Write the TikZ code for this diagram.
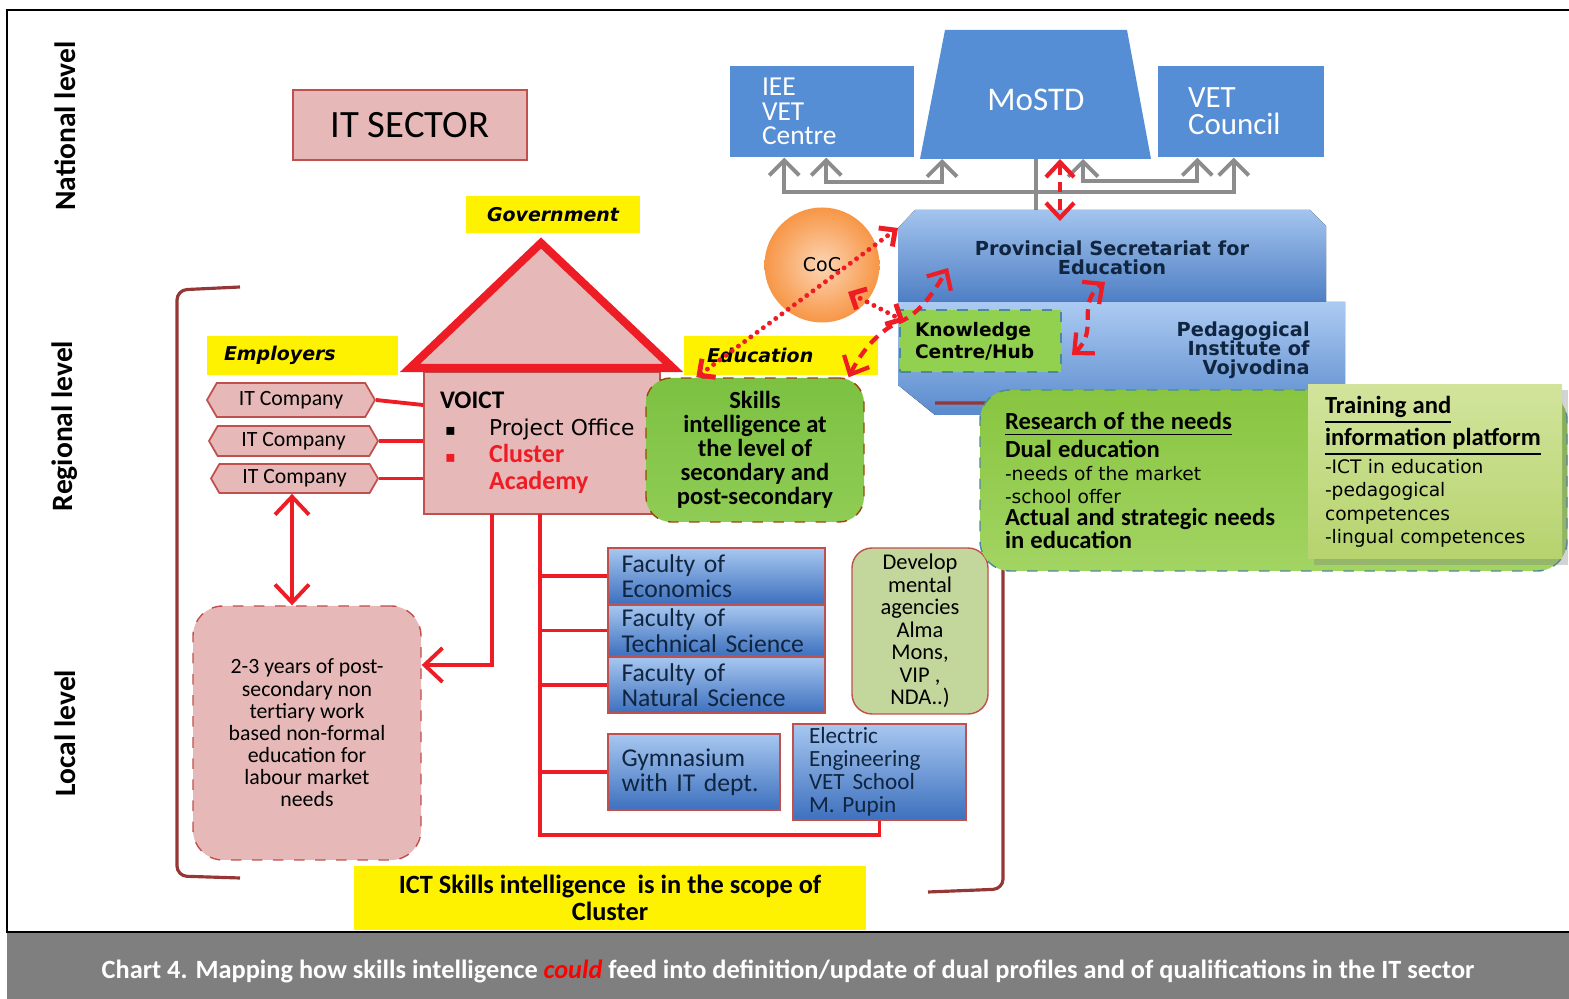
\documentclass[tikz,border=0pt]{standalone}
\usepackage{fontspec}
\setmainfont{Carlito}
\newfontfamily\verd{DejaVu Sans}
\usetikzlibrary{arrows.meta,shapes.symbols,shadows}

\definecolor{pinkfill}{HTML}{E6B9B8}
\definecolor{cellred}{HTML}{C0504D}
\definecolor{brightred}{HTML}{EE1C25}
\definecolor{bracketred}{HTML}{953735}
\definecolor{natblue}{HTML}{558ED5}
\definecolor{provtop}{HTML}{A3C4EE}
\definecolor{provbot}{HTML}{4E7FC4}
\definecolor{pedtop}{HTML}{ACCBF2}
\definecolor{pedbot}{HTML}{5A8ACD}
\definecolor{factop}{HTML}{A7C7F0}
\definecolor{facbot}{HTML}{3D70BE}
\definecolor{navytext}{HTML}{10253F}
\definecolor{arrowgray}{HTML}{8C8C8C}
\definecolor{kgreen}{HTML}{92D050}
\definecolor{dashteal}{HTML}{4A8A9A}
\definecolor{cocin}{HTML}{FCD5B4}
\definecolor{cocout}{HTML}{F79646}
\definecolor{sgone}{HTML}{7CC142}
\definecolor{sgtwo}{HTML}{8FCC55}
\definecolor{skillsedge}{HTML}{984807}
\definecolor{rgone}{HTML}{88C540}
\definecolor{rgtwo}{HTML}{A2D462}
\definecolor{tgone}{HTML}{D2E49C}
\definecolor{tgtwo}{HTML}{B6D36E}
\definecolor{devgreen}{HTML}{C3D69B}
\definecolor{capgray}{HTML}{7F7F7F}

\begin{document}
\begin{tikzpicture}[x=0.1mm, y=-0.1mm,
        pinkbox/.style={draw=cellred, fill=pinkfill, line width=0.5pt},
        yellowbox/.style={fill=yellow, inner sep=0pt},
        natbox/.style={fill=natblue, text=white, inner sep=0pt},
        facbox/.style={draw=cellred, line width=0.5pt, top color=factop, bottom color=facbot, text=navytext, inner sep=0pt, align=left},
        company/.style={signal, signal to=west and east, signal pointer angle=120, pinkbox, inner sep=0pt, font=\fontsize{6.2}{7}\selectfont},
        feedline/.style={draw=brightred, line width=1.1pt, >={Straight Barb[length=1.8mm,width=3.4mm]}},
        grayarrow/.style={draw=arrowgray, line width=1.1pt, >={Straight Barb[length=1.5mm,width=3mm]}, <->},
        reddots/.style={draw=brightred, line width=1.4pt, dash pattern=on 0pt off 2.2pt, line cap=round, >={Straight Barb[length=1.2mm,width=2.3mm]}, <->},
        reddash/.style={draw=brightred, line width=1.2pt, dash pattern=on 3pt off 2pt, >={Straight Barb[length=1.5mm,width=2.8mm]}, <->},
        bracket/.style={draw=bracketred, line width=0.9pt, rounded corners=1mm},
        lvl/.style={rotate=90, font=\bfseries\fontsize{8.4}{10}\selectfont}]

        \useasboundingbox (0,0) rectangle (1569,999);

        % frame and caption band
        \fill[capgray] (7,932) rectangle (1569,999);
        \draw[black, line width=0.6pt] (1569,10) -- (7,10) -- (7,932) -- (1569,932);
        \node[text=white, font=\bfseries\fontsize{7.5}{9}\selectfont] (caption) at (788,971)
            {Chart 4. Mapping how skills intelligence {\color{red}\itshape could} feed into definition/update of dual profiles and of qualifications in the IT sector};

        \node[lvl] (national) at (65,126) {National level};
        \node[lvl] (regional) at (65,426) {Regional level};
        \node[lvl] (local) at (65,733) {Local level};

        \coordinate (lb1) at (240,287);
        \coordinate (lb2) at (177,290);
        \coordinate (lb3) at (177,876);
        \coordinate (lb4) at (240,878);
        \draw[bracket] (lb1) -- (lb2) -- (lb3) -- (lb4);

        \node[pinkbox, minimum width=23.4mm, minimum height=7mm, font=\fontsize{11}{13}\selectfont] (itsector) at (410,125) {IT SECTOR};

        % national level
        \node[natbox, minimum width=18.4mm, minimum height=9.1mm, text width=12mm, inner xsep=3.2mm, align=left, font=\fontsize{7.8}{7}\selectfont] (ieevet) at (822,111.5) {IEE\\VET\\Centre};
        \node[natbox, minimum width=16.6mm, minimum height=9.1mm, text width=10.6mm, inner xsep=3mm, align=left, font=\fontsize{8.8}{7.7}\selectfont] (vetcouncil) at (1241,111.5) {VET\\Council};

        \coordinate (mt1) at (945,30);
        \coordinate (mt2) at (1127,30);
        \coordinate (mt3) at (1151,159);
        \coordinate (mt4) at (920,159);
        \fill[natblue] (mt1) -- (mt2) -- (mt3) -- (mt4) -- cycle;
        \node[text=white, font=\fontsize{9.4}{11}\selectfont] (mostd) at (1036,100) {MoSTD};

        \draw[grayarrow] ([xshift=5.5mm]ieevet.south west) -- ++(0,34) -| ([xshift=-9.1mm]vetcouncil.south east);
        \draw[grayarrow] ([xshift=9.7mm]ieevet.south west) -- ++(0,24) -| ([xshift=2.2mm]mt4);
        \draw[grayarrow] ([xshift=-6.8mm]mt3) -- ++(0,22) -| ([xshift=4mm]vetcouncil.south west);
        \draw[arrowgray, line width=1.1pt] ([xshift=11.6mm]mt4) -- ++(0,51);

        % provincial level
        \coordinate (pc1) at (898,228);
        \coordinate (pc2) at (915,210);
        \coordinate (pc3) at (1310,210);
        \coordinate (pc4) at (1326,226);
        \coordinate (pc5) at (1326,302);
        \coordinate (pc6) at (898,302);
        \fill[top color=provtop, bottom color=provbot] (pc1) -- (pc2) -- (pc3) -- (pc4) -- (pc5) -- (pc6) -- cycle;
        \node[text=navytext, align=center, font=\verd\bfseries\fontsize{5.5}{5.4}\selectfont] (prov) at (1112,258) {Provincial Secretariat for\\Education};

        \coordinate (pd1) at (898,302);
        \coordinate (pd2) at (1345,302);
        \coordinate (pd3) at (1345,415);
        \coordinate (pd4) at (935,415);
        \coordinate (pd5) at (898,385);
        \fill[top color=pedtop, bottom color=pedbot] (pd1) -- (pd2) -- (pd3) -- (pd4) -- (pd5) -- cycle;
        \node[text=navytext, align=right, anchor=east, font=\verd\bfseries\fontsize{5.5}{5.4}\selectfont] (ped) at (1322,350) {Pedagogical\\Institute of\\Vojvodina};

        \node[draw=dashteal, dashed, fill=kgreen, minimum width=16.1mm, minimum height=6.2mm, text width=13.1mm, inner xsep=1.5mm, align=left, font=\verd\bfseries\fontsize{5.3}{6.3}\selectfont] (know) at (980.5,341) {Knowledge\\Centre/Hub};

        \coordinate (rb1) at (935,403);
        \coordinate (rb2) at (1003,403);
        \coordinate (rb3) at (1003,889);
        \coordinate (rb4) at (928,892);
        \draw[bracket] (rb1) -- (rb2) -- (rb3) -- (rb4);

        \node[circle, minimum size=11.5mm, inner color=cocin, outer color=cocout, font=\verd\fontsize{5.4}{6}\selectfont] (coc) at (822,265) {CoC};

        % regional level
        \node[yellowbox, minimum width=17.4mm, minimum height=3.7mm, font=\verd\bfseries\itshape\fontsize{5.4}{6}\selectfont] (gov) at (553,214.5) {Government};
        \node[yellowbox, minimum width=19.1mm, minimum height=3.9mm, text width=15.7mm, inner xsep=1.7mm, align=left, font=\verd\bfseries\itshape\fontsize{5.4}{6}\selectfont] (employers) at (302.5,355.5) {Employers};
        \node[yellowbox, minimum width=19.4mm, minimum height=3.9mm, text width=14.8mm, inner xsep=2.3mm, align=left, font=\verd\bfseries\itshape\fontsize{5.4}{6}\selectfont] (education) at (781,355.5) {Education};

        \node[pinkbox, minimum width=23.6mm, minimum height=14.2mm, text width=20.4mm, inner xsep=1.6mm, inner ysep=0pt, align=left, font=\verd\fontsize{6.2}{7.7}\selectfont] (voict) at (542,443)
            {{\rmfamily\bfseries\fontsize{7.2}{7.7}\selectfont VOICT}\\
            \hspace*{0.5mm}\makebox[4.4mm][l]{\fontsize{4.5}{5}\selectfont▪}Project Office\\
            \hspace*{0.5mm}\makebox[4.4mm][l]{\color{brightred}\fontsize{4.5}{5}\selectfont▪}{\rmfamily\bfseries\color{brightred}\fontsize{7.4}{7.7}\selectfont Cluster}\\
            \hspace*{0.5mm}\makebox[4.4mm][l]{}{\rmfamily\bfseries\color{brightred}\fontsize{7.4}{7.7}\selectfont Academy}};

        \coordinate (apex) at (541,243);
        \coordinate (baseL) at (410,368);
        \coordinate (baseR) at (673,368);
        \filldraw[draw=brightred, fill=pinkfill, line width=2.3pt, line join=miter] (apex) -- (baseR) -- (baseL) -- cycle;

        \node[company, minimum width=16.8mm, minimum height=3.4mm] (co1) at (291,400) {IT Company};
        \node[company, minimum width=16.9mm, minimum height=3mm] (co2) at (293.5,441) {IT Company};
        \node[company, minimum width=16.7mm, minimum height=2.9mm] (co3) at (294.5,478.5) {IT Company};
        \draw[feedline] (co1.east) -- ([yshift=-0.5mm]co1.east -| voict.west);
        \draw[feedline] (co2.east) -- (co2.east -| voict.west);
        \draw[feedline] (co3.east) -- (co3.east -| voict.west);

        % local level
        \node[draw=cellred, dashed, fill=pinkfill, rounded corners=3mm, minimum width=22.8mm, minimum height=25.4mm, align=center, font=\fontsize{6.2}{6.3}\selectfont] (twoyear) at (307,733)
            {2-3 years of post-\\secondary non\\tertiary work\\based non-formal\\education for\\labour market\\needs};
        \draw[feedline, <->] ([xshift=-0.25mm]co3.south) -- ([xshift=-0.25mm]co3.south |- twoyear.north);

        \node[facbox, minimum width=21.7mm, minimum height=5.6mm, text width=19mm, inner xsep=1.35mm, font=\fontsize{7.3}{5.7}\selectfont] (econ) at (716.5,576) {Faculty of\\Economics};
        \node[facbox, minimum width=21.7mm, minimum height=5.1mm, text width=19mm, inner xsep=1.35mm, font=\fontsize{7.3}{5.7}\selectfont] (tech) at (716.5,630.5) {Faculty of\\Technical Science};
        \node[facbox, minimum width=21.7mm, minimum height=5.6mm, text width=19mm, inner xsep=1.35mm, font=\fontsize{7.3}{5.7}\selectfont] (natural) at (716.5,685) {Faculty of\\Natural Science};
        \node[facbox, minimum width=17.2mm, minimum height=7.6mm, text width=14.5mm, inner xsep=1.35mm, font=\fontsize{7.3}{5.7}\selectfont] (gym) at (694,772) {Gymnasium\\with IT dept.};
        \node[facbox, minimum width=17.3mm, minimum height=9.6mm, text width=14.1mm, inner xsep=1.6mm, font=\fontsize{6.6}{6.5}\selectfont] (electric) at (879.5,772) {Electric\\Engineering\\VET School\\M. Pupin};

        \node[draw=cellred, fill=devgreen, rounded corners=2mm, minimum width=13.6mm, minimum height=16.6mm, inner sep=0pt, align=center, font=\fontsize{6.4}{6.4}\selectfont] (develop) at (920,631)
            {Develop\\mental\\agencies\\Alma\\Mons,\\VIP ,\\NDA..)};

        \coordinate (v1) at (492,514);
        \coordinate (v2) at (540,514);
        \coordinate (v3) at (540,835);
        \draw[feedline, ->] (v1) |- ([yshift=6.8mm]twoyear.east);
        \draw[feedline] (v2) -- (v3) -| (electric.south);
        \draw[feedline] (econ.west) -- (econ.west -| v2);
        \draw[feedline] (tech.west) -- (tech.west -| v2);
        \draw[feedline] (natural.west) -- (natural.west -| v2);
        \draw[feedline] (gym.west) -- (gym.west -| v2);

        \node[draw=skillsedge, dashed, rounded corners=2.5mm, top color=sgone, bottom color=sgtwo, minimum width=21.8mm, minimum height=14.4mm, align=center, font=\bfseries\fontsize{7}{6.8}\selectfont] (skills) at (755,450)
            {Skills\\intelligence at\\the level of\\secondary and\\post-secondary};

        \node[draw=dashteal, dashed, rounded corners=3mm, top color=rgone, bottom color=rgtwo, minimum width=58.7mm, minimum height=18.1mm, text width=53.7mm, inner xsep=2.5mm, align=left, font=\verd\fontsize{5.3}{6.5}\selectfont] (research) at (1273.5,480.5)
            {{\rmfamily\bfseries\fontsize{7}{6.5}\selectfont\underline{Research of the needs}}\\
            {\rmfamily\bfseries\fontsize{7}{6.5}\selectfont Dual education}\\
            -needs of the market\\
            -school offer\\
            {\rmfamily\bfseries\fontsize{7}{6.5}\selectfont Actual and strategic needs}\\
            {\rmfamily\bfseries\fontsize{7}{6.5}\selectfont in education}};
        \node[top color=tgone, bottom color=tgtwo, drop shadow={shadow xshift=0.6mm, shadow yshift=-0.6mm, opacity=0.35}, minimum width=25.4mm, minimum height=15.7mm, text width=22mm, inner xsep=1.7mm, align=left, font=\verd\fontsize{5.3}{6.6}\selectfont] (training) at (1435,471.5)
            {{\rmfamily\bfseries\fontsize{7}{6.6}\selectfont\underline{Training and}}\\
            {\rmfamily\bfseries\fontsize{7}{6.6}\selectfont\underline{information platform}}\\
            -ICT in education\\
            -pedagogical\\
            competences\\
            -lingual competences};

        % feedback arrows
        \coordinate (pv) at (948,268);
        \coordinate (pa) at (1072,355);
        \coordinate (pb) at (1105,282);
        \coordinate (cq) at (848,292);
        \draw[reddash] ([xshift=14mm]mt4) -- ++(0,62);
        \draw[reddots] ([xshift=5.1mm]skills.north west) -- (pc1);
        \draw[reddots] (cq) -- ([xshift=0.5mm, yshift=-1.2mm]know.north west);
        \draw[reddash] ([xshift=-1.6mm]skills.north east) .. controls (862,350) and (880,330) .. ([yshift=1.9mm]know.west) .. controls (920,314) and (935,290) .. (pv);
        \draw[reddash] (pa) .. controls (1100,330) and (1075,305) .. (pb);

        \node[yellowbox, minimum width=51.2mm, minimum height=6.4mm, align=center, font=\bfseries\fontsize{7.5}{6.5}\selectfont] (ict) at (610,898)
            {ICT Skills intelligence\ \ is in the scope of\\Cluster};

    \end{tikzpicture}
\end{document}
